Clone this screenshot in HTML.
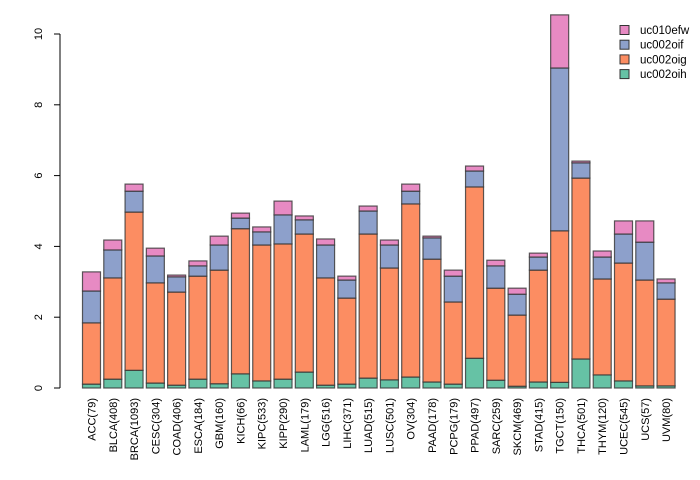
<!DOCTYPE html>
<html><head><meta charset="utf-8"><style>
html,body{margin:0;padding:0;background:#fff;}
svg{display:block;font-family:"Liberation Sans",sans-serif;}
</style></head><body>
<svg id="chart" width="700" height="480" viewBox="0 0 700 480"></svg>
<script>
const categories=["ACC(79)","BLCA(408)","BRCA(1093)","CESC(304)","COAD(406)","ESCA(184)","GBM(160)","KICH(66)","KIPC(533)","KIPP(290)","LAML(179)","LGG(516)","LIHC(371)","LUAD(515)","LUSC(501)","OV(304)","PAAD(178)","PCPG(179)","PPAD(497)","SARC(259)","SKCM(469)","STAD(415)","TGCT(150)","THCA(501)","THYM(120)","UCEC(545)","UCS(57)","UVM(80)"];
const uc002oih=[0.11,0.25,0.5,0.14,0.08,0.25,0.12,0.4,0.2,0.25,0.45,0.08,0.11,0.28,0.23,0.31,0.17,0.11,0.84,0.22,0.05,0.17,0.16,0.82,0.37,0.2,0.06,0.06];
const uc002oig=[1.73,2.86,4.47,2.83,2.63,2.91,3.21,4.1,3.84,3.82,3.9,3.03,2.43,4.07,3.16,4.89,3.47,2.32,4.84,2.6,2.01,3.16,4.28,5.11,2.71,3.33,2.99,2.45];
const uc002oif=[0.9,0.79,0.59,0.76,0.43,0.29,0.71,0.3,0.37,0.82,0.4,0.93,0.51,0.65,0.65,0.36,0.6,0.73,0.45,0.63,0.59,0.37,4.6,0.43,0.62,0.82,1.07,0.46];
const uc010efw=[0.54,0.28,0.2,0.22,0.05,0.14,0.25,0.14,0.14,0.39,0.11,0.17,0.11,0.14,0.14,0.2,0.05,0.17,0.14,0.16,0.17,0.11,1.5,0.05,0.17,0.37,0.6,0.11];
const yTicks=[0,2,4,6,8,10];
const series=[["uc002oih",uc002oih,"#66C2A5"],["uc002oig",uc002oig,"#FC8D62"],["uc002oif",uc002oif,"#8DA0CB"],["uc010efw",uc010efw,"#E78AC3"]];
const NS="http://www.w3.org/2000/svg";
const svg=document.getElementById("chart");
const y0=388,pxPerUnit=35.4;
function yScale(v){return y0-v*pxPerUnit;}
function xCenter(i){return 91.5+i*21.28;}
const bw=18;
function mk(tag,attrs){const e=document.createElementNS(NS,tag);for(const k in attrs)e.setAttribute(k,attrs[k]);svg.appendChild(e);return e;}
// y axis
const ax=mk("line",{x1:60,x2:60,y1:yScale(0),y2:yScale(10),stroke:"#000"});


yTicks.forEach(t=>{
  const tk=mk("line",{x1:54,x2:60,y1:yScale(t),y2:yScale(t),stroke:"#000"});
  
  
  const tx=mk("text",{x:42,y:yScale(t),"font-size":11,"text-anchor":"middle",transform:`rotate(-90 42 ${yScale(t)})`});
  tx.textContent=t;
  
  
});
categories.forEach((c,i)=>{
  let cum=0;const xc=xCenter(i);
  series.forEach(([name,vals,col])=>{
    const v=vals[i];
    const r=mk("rect",{x:xc-bw/2,y:yScale(cum+v),width:bw,height:v*pxPerUnit,fill:col,stroke:"#333","stroke-opacity":0.8,"stroke-width":1.2});
    
    
    cum+=v;
  });
  const tx=mk("text",{x:xc+4,y:398,"font-size":11,"text-anchor":"end",transform:`rotate(-90 ${xc+4} 398)`});
  tx.textContent=c;
  
  
});
// legend
const legend=[["uc010efw","#E78AC3"],["uc002oif","#8DA0CB"],["uc002oig","#FC8D62"],["uc002oih","#66C2A5"]];
legend.forEach(([n,col],i)=>{
  const y=30+i*14.7;
  const s=mk("rect",{x:620,y:y-4.5,width:9,height:9,fill:col,stroke:"#333","stroke-width":1});
  
  
  const t=mk("text",{x:640,y:y+4,"font-size":11.5});
  t.textContent=n;
  
  
});
</script>
</body></html>
